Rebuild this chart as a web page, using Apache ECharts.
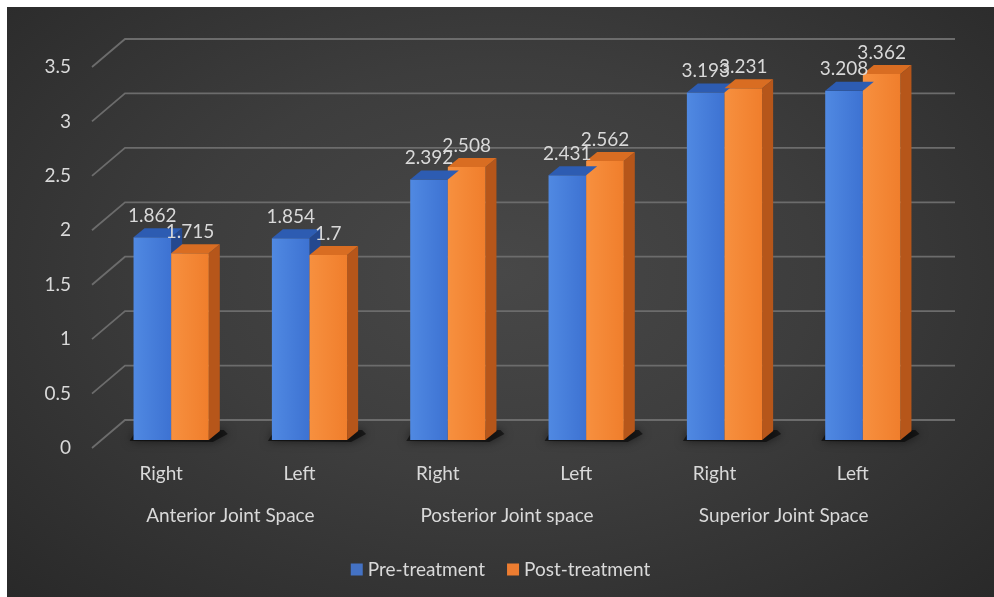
<!DOCTYPE html>
<html>
<head>
<meta charset="utf-8">
<script src="https://cdn.jsdelivr.net/npm/echarts@6/dist/echarts.min.js"></script>
<style>
  html, body { margin: 0; padding: 0; background: #ffffff; }
  #chart {
    position: absolute; left: 7px; top: 7px; width: 987px; height: 590px;
    background: radial-gradient(ellipse farthest-corner at 50% 45%, #484848 0%, #3d3d3d 45%, #292929 100%);
  }
</style>
</head>
<body>
<div id="chart"></div>
<script>
// Joint space measurements by side, before and after treatment
const sides = ['Right', 'Left', 'Right', 'Left', 'Right', 'Left'];
const regions = ['Anterior Joint Space', 'Posterior Joint space', 'Superior Joint Space'];
const preTreatment = [1.862, 1.854, 2.392, 2.431, 3.193, 3.208];
const postTreatment = [1.715, 1.7, 2.508, 2.562, 3.231, 3.362];
const yTicks = [0, 0.5, 1, 1.5, 2, 2.5, 3, 3.5];

const TEXT = '#d9d9d9';
const FONT = 'Lato';
const FS = 19;

// pseudo-3D projection offsets
const WALL_DX = 33, WALL_DY = -28;   // depth of the back wall
const BAR_FX = 10, BAR_FY = -8;      // where bar fronts sit inside the box
const BAR_DX = 11, BAR_DY = -9;      // bar depth

const palette = {
  pre: { front: ['#5089e2', '#3d72d2'], top: '#2d5cb2', side: '#24488f' },
  post: { front: ['#f7903f', '#f07e2c'], top: '#d96d22', side: '#b6561a' }
};

function barItem(seriesKey, isLeft) {
  const c = palette[seriesKey];
  return function (params, api) {
    const ci = api.value(0), v = api.value(1);
    const base = api.coord([ci, 0]);
    const top = api.coord([ci, v]);
    const band = api.size([1, 0])[0];
    const w = band * 0.272;
    const x0 = base[0] + BAR_FX + (isLeft ? -w : 0);
    const x1 = x0 + w;
    const yb = base[1] + BAR_FY;
    const yt = top[1] + BAR_FY;
    const children = [
      {
        type: 'polygon', z2: 1,
        shape: { points: [[x1, yt], [x1 + BAR_DX, yt + BAR_DY], [x1 + BAR_DX, yb + BAR_DY], [x1, yb]] },
        style: { fill: c.side }
      },
      {
        type: 'rect', z2: 2,
        shape: { x: x0, y: yt, width: w, height: yb - yt },
        style: {
          fill: new echarts.graphic.LinearGradient(0, 0, 1, 0, [
            { offset: 0, color: c.front[0] }, { offset: 1, color: c.front[1] }
          ])
        }
      },
      {
        type: 'polygon', z2: 3,
        shape: { points: [[x0, yt], [x1, yt], [x1 + BAR_DX, yt + BAR_DY], [x0 + BAR_DX, yt + BAR_DY]] },
        style: { fill: c.top }
      },
      {
        type: 'text', z2: 100,
        x: (x0 + x1) / 2, y: yt + BAR_DY - 3,
        style: {
          text: String(v), fill: TEXT, font: FS + 'px ' + FONT,
          align: 'center', verticalAlign: 'bottom'
        }
      }
    ];
    return { type: 'group', children: children };
  };
}

const chart = echarts.init(document.getElementById('chart'), null, { renderer: 'canvas' });

chart.setOption({
  backgroundColor: 'transparent',
  animation: false,
  textStyle: { fontFamily: FONT },
  grid: { left: 85, right: 72, top: 60, bottom: 149 },
  legend: {
    top: 548, left: 'center',
    icon: 'rect', itemWidth: 12, itemHeight: 12, itemGap: 22,
    textStyle: { color: TEXT, fontSize: FS, fontFamily: FONT },
    data: ['Pre-treatment', 'Post-treatment']
  },
  xAxis: [
    {
      type: 'category', data: sides, position: 'bottom',
      axisLine: { show: false }, axisTick: { show: false }, splitLine: { show: false },
      axisLabel: { color: TEXT, fontSize: FS, fontFamily: FONT, margin: 16, interval: 0 }
    },
    {
      type: 'category', data: regions, position: 'bottom',
      axisLine: { show: false }, axisTick: { show: false }, splitLine: { show: false },
      axisLabel: { color: TEXT, fontSize: FS, fontFamily: FONT, margin: 58, interval: 0 }
    }
  ],
  yAxis: {
    type: 'value', min: 0, max: 3.5, interval: 0.5,
    axisLine: { show: false }, axisTick: { show: false }, splitLine: { show: false },
    axisLabel: { color: TEXT, fontSize: FS, fontFamily: FONT, margin: 21 }
  },
  series: [
    {
      // side and back wall gridlines
      type: 'custom', name: 'wall', silent: true, z: 1,
      data: yTicks.map(function (t) { return [0, t]; }),
      encode: { x: 0, y: 1 },
      renderItem: function (params, api) {
        const cs = params.coordSys;
        const y = api.coord([0, api.value(1)])[1];
        const x = cs.x;
        return {
          type: 'polyline',
          shape: { points: [[x, y], [x + WALL_DX, y + WALL_DY], [x + cs.width + WALL_DX, y + WALL_DY]] },
          style: { stroke: '#6c6c6c', lineWidth: 1.8, fill: null }
        };
      }
    },
    {
      // soft floor shadow under each pair of bars
      type: 'custom', name: 'floor', silent: true, z: 1,
      data: sides.map(function (s, i) { return [i, 0]; }),
      encode: { x: 0, y: 1 },
      renderItem: function (params, api) {
        const base = api.coord([api.value(0), 0]);
        const band = api.size([1, 0])[0];
        const w = band * 0.272;
        const x0 = base[0] + BAR_FX - w, x1 = base[0] + BAR_FX + w;
        const yb = base[1] + BAR_FY;
        return {
          type: 'polygon', z2: 1,
          shape: { points: [[x0 - 4, yb + 1], [x1 + 4, yb + 2], [x1 + BAR_DX + 8, yb + BAR_DY + 3], [x1 + BAR_DX + 4, yb + BAR_DY - 1], [x0 + BAR_DX - 8, yb + BAR_DY - 1]] },
          style: { fill: 'rgba(0,0,0,0.55)', shadowBlur: 10, shadowColor: 'rgba(0,0,0,0.95)' }
        };
      }
    },
    {
      type: 'custom', name: 'Pre-treatment', z: 2,
      itemStyle: { color: '#4472c4' },
      data: preTreatment.map(function (v, i) { return [i, v]; }),
      encode: { x: 0, y: 1 },
      renderItem: barItem('pre', true)
    },
    {
      type: 'custom', name: 'Post-treatment', z: 2,
      itemStyle: { color: '#ed7d31' },
      data: postTreatment.map(function (v, i) { return [i, v]; }),
      encode: { x: 0, y: 1 },
      renderItem: barItem('post', false)
    }
  ]
});
</script>
</body>
</html>
